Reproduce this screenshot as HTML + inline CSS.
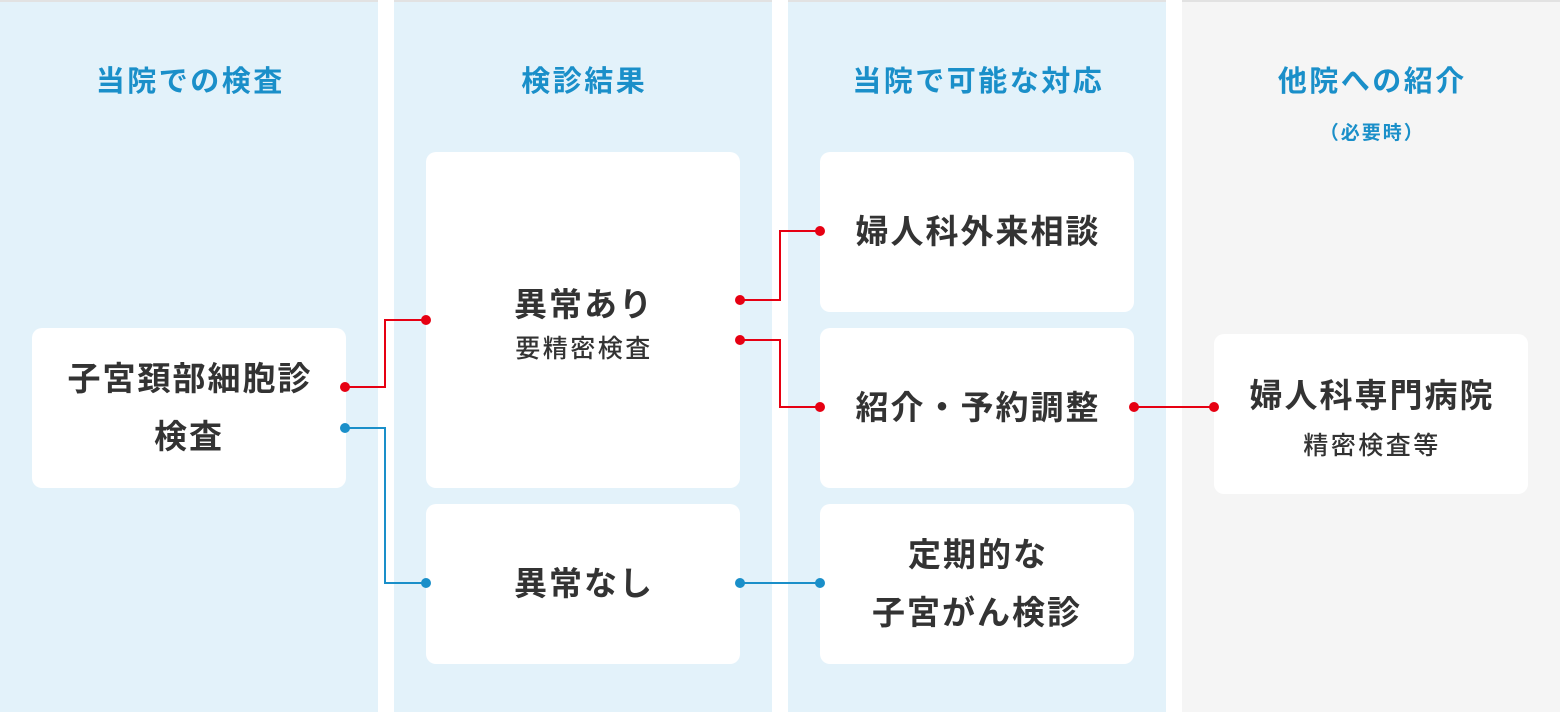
<!DOCTYPE html>
<html><head><meta charset="utf-8"><style>
body{margin:0;width:1560px;height:712px;position:relative;overflow:hidden;background:#fff;font-family:"Liberation Sans","Noto Sans CJK JP",sans-serif;}
.col{position:absolute;top:0;height:712px;border-top:2px solid #e2e2e2;box-sizing:border-box;}
.h{position:absolute;width:100%;text-align:center;top:56px;font-size:29px;letter-spacing:2.5px;text-indent:2.5px;font-weight:bold;color:#1a8fc9;}
.box{position:absolute;background:#fff;border-radius:10px;display:flex;flex-direction:column;align-items:center;justify-content:center;text-align:center;color:#333;font-weight:bold;font-size:33px;letter-spacing:2px;line-height:58px;}
.box>div,.box{text-indent:2px}
.s{font-size:25px;line-height:30px;font-weight:500;letter-spacing:2.5px;}
svg{position:absolute;left:0;top:0;}
</style></head><body>
<div class="col" style="left:0;width:378px;background:#e3f2fa"><div class="h">当院での検査</div></div>
<div class="col" style="left:394px;width:378px;background:#e3f2fa"><div class="h">検診結果</div></div>
<div class="col" style="left:788px;width:378px;background:#e3f2fa"><div class="h">当院で可能な対応</div></div>
<div class="col" style="left:1182px;width:378px;background:#f5f5f5"><div class="h">他院への紹介</div><div class="h" style="top:116px;font-size:19px;letter-spacing:2px">（必要時）</div></div>
<div class="box" style="left:32px;top:328px;width:314px;height:160px">子宮頚部細胞診<br>検査</div>
<div class="box" style="left:426px;top:152px;width:314px;height:336px"><div>異常あり</div><div class="s">要精密検査</div></div>
<div class="box" style="left:426px;top:504px;width:314px;height:160px">異常なし</div>
<div class="box" style="left:820px;top:152px;width:314px;height:160px">婦人科外来相談</div>
<div class="box" style="left:820px;top:328px;width:314px;height:160px">紹介・予約調整</div>
<div class="box" style="left:820px;top:504px;width:314px;height:160px">定期的な<br>子宮がん検診</div>
<div class="box" style="left:1214px;top:334px;width:314px;height:160px"><div>婦人科専門病院</div><div class="s" style="margin-top:6px">精密検査等</div></div>
<svg width="1560" height="712">
<g fill="none" stroke-width="2">
<polyline stroke="#e60012" points="345,387 385,387 385,320 426,320"/>
<polyline stroke="#1a8fc9" points="345,428 385,428 385,583 426,583"/>
<polyline stroke="#e60012" points="740,300 780,300 780,231 820,231"/>
<polyline stroke="#e60012" points="740,340 780,340 780,407 820,407"/>
<polyline stroke="#1a8fc9" points="740,583 820,583"/>
<polyline stroke="#e60012" points="1134,407 1214,407"/>
</g>
<g fill="#e60012"><circle cx="345" cy="387" r="5"/><circle cx="426" cy="320" r="5"/><circle cx="740" cy="300" r="5"/><circle cx="820" cy="231" r="5"/><circle cx="740" cy="340" r="5"/><circle cx="820" cy="407" r="5"/><circle cx="1134" cy="407" r="5"/><circle cx="1214" cy="407" r="5"/></g>
<g fill="#1a8fc9"><circle cx="345" cy="428" r="5"/><circle cx="426" cy="583" r="5"/><circle cx="740" cy="583" r="5"/><circle cx="820" cy="583" r="5"/></g>
</svg>
</body></html>
